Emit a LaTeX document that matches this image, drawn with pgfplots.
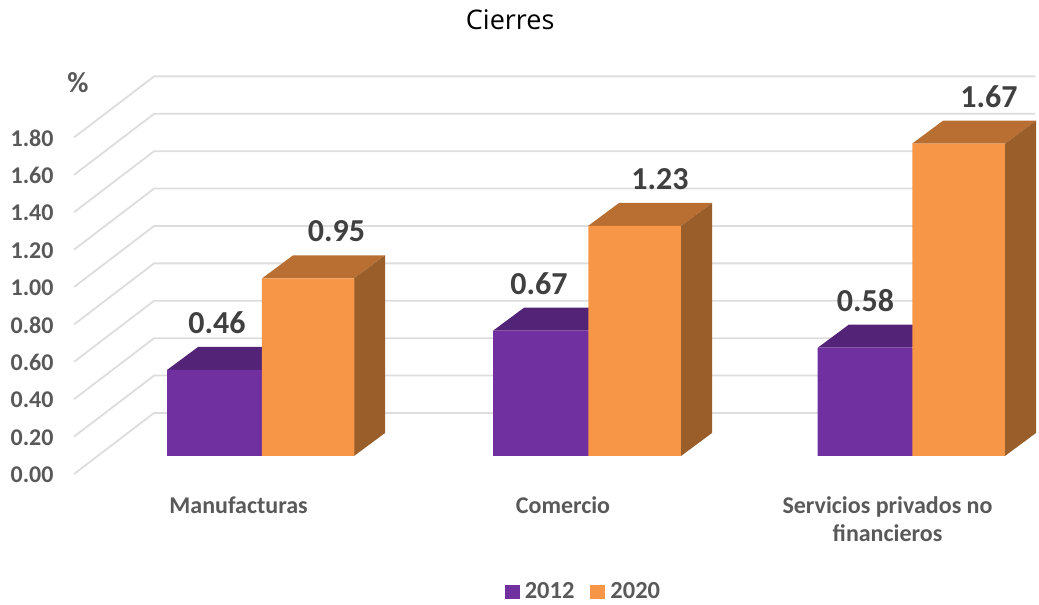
\documentclass[border=0pt]{standalone}
\usepackage{fontspec}
\setmainfont{Carlito}
\newfontfamily\titlefont{Open Sans}
\usepackage{pgfplots}
\pgfplotsset{compat=1.18}
\definecolor{pf}{HTML}{7030A0}
\definecolor{pt}{HTML}{532378}
\definecolor{of}{HTML}{F79646}
\definecolor{ot}{HTML}{B96F32}
\definecolor{os}{HTML}{9A5E2B}
\definecolor{gl}{HTML}{DDDDDD}
\definecolor{tx}{HTML}{595959}
\definecolor{vl}{HTML}{404040}
\begin{document}
\begin{tikzpicture}
\begin{axis}[
  scale only axis, width=1039pt, height=604pt,
  xmin=0, xmax=1039, ymin=-0.7914, ymax=2.4385,
  clip=false, axis line style={draw=none}, major tick length=0pt,
  axis x line=bottom, axis y line=left,
  /pgf/number format/assume math mode=true,
  /pgf/number format/fixed, /pgf/number format/fixed zerofill, /pgf/number format/precision=2,
  ytick={0,0.2,0.4,0.6,0.8,1.0,1.2,1.4,1.6,1.8},
  yticklabel style={anchor=west, xshift=7pt, yshift=-19pt, text=tx, font=\fontsize{24}{26}\selectfont\bfseries},
  xtick={238.5,563,887.5},
  xticklabels={Manufacturas,Comercio,{Servicios privados no\\financieros}},
  xticklabel style={anchor=north, yshift=111pt, align=center, text=tx, font=\fontsize{24}{28}\selectfont\bfseries},
  title={Cierres},
  title style={at={(axis description cs:0.491,0.966)}, anchor=center, yshift=-5pt, font=\titlefont\fontsize{27}{30}\selectfont, text=black},
  ylabel={\%},
  ylabel style={at={(axis description cs:0.075,0.864)}, anchor=center, rotate=-90, text=tx, font=\fontsize{29}{31}\selectfont\bfseries},
  legend columns=2,
  legend style={at={(axis description cs:0.5615,0.0205)}, anchor=center, draw=none, fill=none,
    font=\fontsize{24.5}{26}\selectfont\bfseries, text=tx,
    /tikz/column 2/.style={column sep=14pt}},
  legend image code/.code={\fill[#1] (0pt,-7pt) rectangle (15pt,7pt); \path (18pt,0pt);},
  every node near coord/.append style={anchor=center, yshift=47pt, text=vl, font=\fontsize{32}{34}\selectfont\bfseries},
]
% back wall and floor lines
\addplot[gl,line width=1.8pt,forget plot] coordinates {(74,-0.0963)(154,0.2299)(1035,0.2299)};
\addplot[gl,line width=1.8pt,forget plot] coordinates {(74,0.1037)(154,0.4299)(1035,0.4299)};
\addplot[gl,line width=1.8pt,forget plot] coordinates {(74,0.3037)(154,0.6299)(1035,0.6299)};
\addplot[gl,line width=1.8pt,forget plot] coordinates {(74,0.5037)(154,0.8299)(1035,0.8299)};
\addplot[gl,line width=1.8pt,forget plot] coordinates {(74,0.7037)(154,1.0299)(1035,1.0299)};
\addplot[gl,line width=1.8pt,forget plot] coordinates {(74,0.9037)(154,1.2299)(1035,1.2299)};
\addplot[gl,line width=1.8pt,forget plot] coordinates {(74,1.1037)(154,1.4299)(1035,1.4299)};
\addplot[gl,line width=1.8pt,forget plot] coordinates {(74,1.3037)(154,1.6299)(1035,1.6299)};
\addplot[gl,line width=1.8pt,forget plot] coordinates {(74,1.5037)(154,1.8299)(1035,1.8299)};
\addplot[gl,line width=1.8pt,forget plot] coordinates {(74,1.7037)(154,2.0299)(1035,2.0299)};
% purple tops
\addplot[fill=pt,draw=none,forget plot] coordinates {(167,0.46)(198,0.583)(293,0.583)(262,0.46)};
\addplot[fill=pt,draw=none,forget plot] coordinates {(493,0.67)(524,0.793)(619,0.793)(588,0.67)};
\addplot[fill=pt,draw=none,forget plot] coordinates {(818,0.58)(849,0.703)(943,0.703)(912,0.58)};
% orange tops and sides
\addplot[fill=ot,draw=none,forget plot] coordinates {(262,0.95)(293,1.073)(385,1.073)(354,0.95)};
\addplot[fill=ot,draw=none,forget plot] coordinates {(588,1.23)(619,1.353)(712,1.353)(681,1.23)};
\addplot[fill=ot,draw=none,forget plot] coordinates {(912,1.67)(943,1.793)(1036,1.793)(1005,1.67)};
\addplot[fill=os,draw=none,forget plot] coordinates {(354,0)(385,0.123)(385,1.073)(354,0.95)};
\addplot[fill=os,draw=none,forget plot] coordinates {(681,0)(712,0.123)(712,1.353)(681,1.23)};
\addplot[fill=os,draw=none,forget plot] coordinates {(1005,0)(1036,0.123)(1036,1.793)(1005,1.67)};
% fronts
\addplot[ybar, bar width=96pt, bar shift=0pt, fill=pf, draw=none,
  nodes near coords,
  coordinate style/.condition={x<300}{xshift=2pt},
  coordinate style/.condition={x>300 && x<600}{xshift=-2pt}]
  coordinates {(215,0.46)(541,0.67)(865.5,0.58)};
\addplot[ybar, bar width=92.5pt, bar shift=0pt, fill=of, draw=none,
  nodes near coords, every node near coord/.append style={xshift=28.5pt},
  coordinate style/.condition={x>600 && x<700}{xshift=-3pt},
  coordinate style/.condition={x>900}{xshift=2pt}]
  coordinates {(308,0.95)(634.5,1.23)(958.5,1.67)};
\legend{2012,2020}
\end{axis}
\end{tikzpicture}
\end{document}
